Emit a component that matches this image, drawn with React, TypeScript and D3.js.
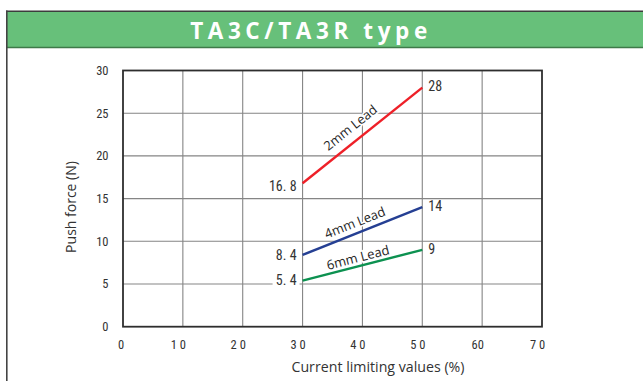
import React from "react";
import * as d3 from "d3";

const xTicks = [0, 10, 20, 30, 40, 50, 60, 70];
const xTickLabels = ["0", "1 0", "2 0", "3 0", "4 0", "5 0", "60", "7 0"];
const yTicks = [0, 5, 10, 15, 20, 25, 30];
const limits = [30, 50];
const seriesNames = ["2mm Lead", "4mm Lead", "6mm Lead"];
const lead2 = [16.8, 28];
const lead4 = [8.4, 14];
const lead6 = [5.4, 9];
const startLabels = ["16. 8", "8. 4", "5. 4"];
const endLabels = ["28", "14", "9"];
const title = "TA3C/TA3R type";
const xTitle = "Current limiting values (%)";
const yTitle = "Push force (N)";

const colors = ["#ee2028", "#253f93", "#0c9150"];
const labelOffsets = [9, 6, 4];
const labelPos = [0.47, 0.47, 0.48];
const W = 643;
const H = 381;
const tickFont = "'Liberation Sans Narrow', 'Roboto Condensed', Roboto, sans-serif";
const humanFont = "'Open Sans', 'Noto Sans', sans-serif";

export default function App() {
  const x = d3.scaleLinear().domain([0, 70]).range([123, 542]);
  const y = d3.scaleLinear().domain([0, 30]).range([326.7, 70.5]);
  const series = [lead2, lead4, lead6];
  const line = d3
    .line<[number, number]>()
    .x((d) => x(d[0]))
    .y((d) => y(d[1]));

  return (
    <svg
      width={W}
      height={H}
      style={{ position: "absolute", left: 0, top: 0, background: "#fff" }}
    >
      {/* header */}
      <rect x={6} y={12} width={W - 6} height={35} fill="#67c07a" />
      <line x1={6} x2={W} y1={11.2} y2={11.2} stroke="#3c3c3c" strokeWidth={1.6} />
      <line x1={6} x2={W} y1={47.5} y2={47.5} stroke="#3e7a49" strokeWidth={1.4} />
      <line x1={6.8} x2={6.8} y1={10.5} y2={H} stroke="#444" strokeWidth={1.6} />
      <text
        x={311}
        y={38.5}
        fill="#fff"
        fontFamily={humanFont}
        fontWeight={700}
        fontSize={22.5}
        letterSpacing={4.6}
        textAnchor="middle"
      >
        {title}
      </text>

      {/* grid */}
      {xTicks.slice(1, -1).map((t) => (
        <line key={"gx" + t} x1={x(t)} x2={x(t)} y1={y(30)} y2={y(0)} stroke="#858585" strokeWidth={1.1} />
      ))}
      {yTicks.slice(1, -1).map((t) => (
        <line key={"gy" + t} x1={x(0)} x2={x(70)} y1={y(t)} y2={y(t)} stroke="#858585" strokeWidth={1.1} />
      ))}
      <rect
        x={x(0)}
        y={y(30)}
        width={x(70) - x(0)}
        height={y(0) - y(30)}
        fill="none"
        stroke="#2e2e2e"
        strokeWidth={1.8}
      />

      {/* tick labels */}
      {yTicks.map((t) => (
        <text
          key={"yl" + t}
          x={108.5}
          y={y(t)}
          dy="0.35em"
          textAnchor="end"
          fontFamily={tickFont}
          fontSize={12.5}
          fill="#333"
        >
          {t}
        </text>
      ))}
      {xTicks.map((t, i) => (
        <text
          key={"xl" + t}
          x={x(t) - (i === 0 ? 2 : 4.5)}
          y={349}
          textAnchor="middle"
          fontFamily={tickFont}
          fontSize={12.5}
          fill="#333"
        >
          {xTickLabels[i]}
        </text>
      ))}

      {/* axis titles */}
      <text
        x={378}
        y={371.5}
        textAnchor="middle"
        fontFamily={humanFont}
        fontSize={14.2}
        fill="#333"
      >
        {xTitle}
      </text>
      <text
        transform={`translate(75.5,207) rotate(-90)`}
        textAnchor="middle"
        fontFamily={humanFont}
        fontSize={14}
        fill="#333"
      >
        {yTitle}
      </text>

      {/* series */}
      {series.map((vals, i) => {
        const pts: [number, number][] = limits.map((l, j) => [l, vals[j]]);
        const x0 = x(limits[0]);
        const y0 = y(vals[0]);
        const x1 = x(limits[1]);
        const y1 = y(vals[1]);
        const ang = (Math.atan2(y1 - y0, x1 - x0) * 180) / Math.PI;
        const t = labelPos[i];
        const mx = x0 + (x1 - x0) * t;
        const my = y0 + (y1 - y0) * t;
        const rad = (ang * Math.PI) / 180;
        const off = labelOffsets[i];
        const lx = mx + Math.sin(rad) * off;
        const ly = my - Math.cos(rad) * off;
        return (
          <g key={seriesNames[i]}>
            <path d={line(pts) || ""} fill="none" stroke={colors[i]} strokeWidth={2.4} />
            <text
              transform={`translate(${lx},${ly}) rotate(${ang})`}
              textAnchor="middle"
              fontFamily={humanFont}
              fontSize={13}
              fill="#262626"
              stroke="#fff"
              strokeWidth={3}
              paintOrder="stroke"
            >
              {seriesNames[i]}
            </text>
            <rect x={x0 - 30} y={y0 - 7 + (i === 0 ? 3 : 0)} width={27} height={14} fill="#fff" />
            <text
              x={x0 - 6}
              y={y0 + (i === 0 ? 3 : 0)}
              dy="0.35em"
              textAnchor="end"
              fontFamily={tickFont}
              fontSize={14}
              fill="#333"
            >
              {startLabels[i]}
            </text>
            <text
              x={x1 + 6}
              y={y1 - 1}
              dy="0.35em"
              textAnchor="start"
              fontFamily={tickFont}
              fontSize={14}
              fill="#333"
            >
              {endLabels[i]}
            </text>
          </g>
        );
      })}
    </svg>
  );
}
